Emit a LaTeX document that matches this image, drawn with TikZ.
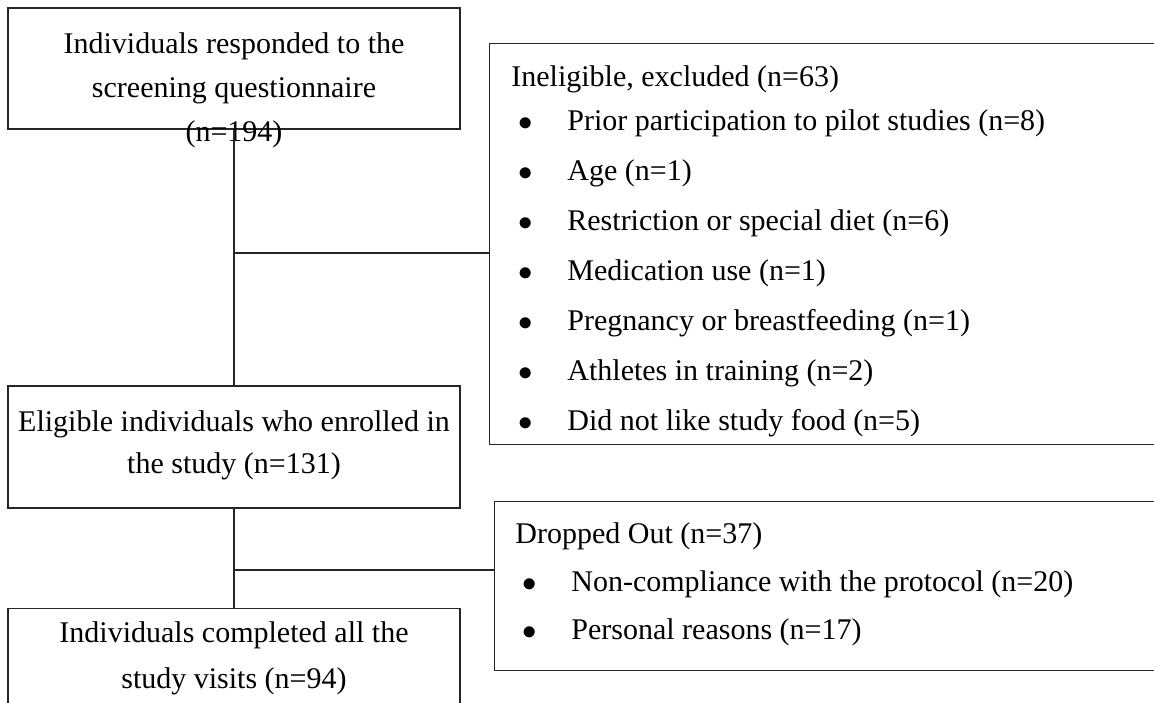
\documentclass[tikz,border=0pt]{standalone}
\usepackage{fontspec}
\setmainfont{Liberation Serif}
\usetikzlibrary{positioning}
\tikzset{
  flowbox/.style={draw=black!85, line width=0.65pt, minimum width=226pt, inner sep=0pt},
  sidebox/.style={draw=black!85, line width=0.65pt, minimum width=340pt,
    inner sep=0pt, anchor=north west},
  boxtext/.style={align=center, inner sep=0pt, anchor=north,
    font=\fontsize{15pt}{22pt}\selectfont},
  listtext/.style={align=left, inner sep=0pt, anchor=north west,
    font=\fontsize{15pt}{25pt}\selectfont},
  link/.style={draw=black!85, line width=0.65pt},
}
\newcommand{\itm}{\makebox[14pt][c]{$\bullet$}\hspace{14pt}}

\begin{document}
\begin{tikzpicture}[x=0.5pt, y=-0.5pt]
  \path[use as bounding box, clip] (0,0) rectangle (1154,702);

  % main column
  \node[flowbox, minimum height=60.5pt] (resp) at (234,68.5) {};
  \node[flowbox, minimum height=61pt] (elig) at (234,447) {};
  \node[flowbox, minimum height=80pt, anchor=north] (compl) at (234,608) {};

  \node[boxtext] (respt) at (234,32.5)
    {Individuals responded to the\\screening questionnaire\\(n=194)};
  \node[boxtext, font=\fontsize{15pt}{21pt}\selectfont] (eligt) at (234,410)
    {Eligible individuals who enrolled in\\the study (n=131)};
  \node[boxtext, font=\fontsize{15pt}{23pt}\selectfont] (complt) at (234,621.5)
    {Individuals completed all the\\study visits (n=94)};

  % side boxes
  \node[sidebox, minimum height=200.5pt] (excl) at (489,43) {};
  \node[sidebox, minimum height=84.5pt] (drop) at (494,501) {};

  \node[listtext] (exclt) at (511,65.5)
    {Ineligible, excluded (n=63)\\[-3pt]\itm Prior participation to pilot studies (n=8)\\\itm Age (n=1)\\\itm Restriction or special diet (n=6)\\\itm Medication use (n=1)\\\itm Pregnancy or breastfeeding (n=1)\\\itm Athletes in training (n=2)\\\itm Did not like study food (n=5)};
  \node[listtext, font=\fontsize{15pt}{24pt}\selectfont] (dropt) at (515,522.5)
    {Dropped Out (n=37)\\\itm Non-compliance with the protocol (n=20)\\\itm Personal reasons (n=17)};

  % connectors
  \coordinate (j1) at (234,253);
  \coordinate (j2) at (234,570);
  \draw[link] (resp.south) -- (elig.north);
  \draw[link] (elig.south) -- (compl.north);
  \draw[link] (j1) -- (j1 -| excl.west);
  \draw[link] (j2) -- (j2 -| drop.west);
\end{tikzpicture}
\end{document}
